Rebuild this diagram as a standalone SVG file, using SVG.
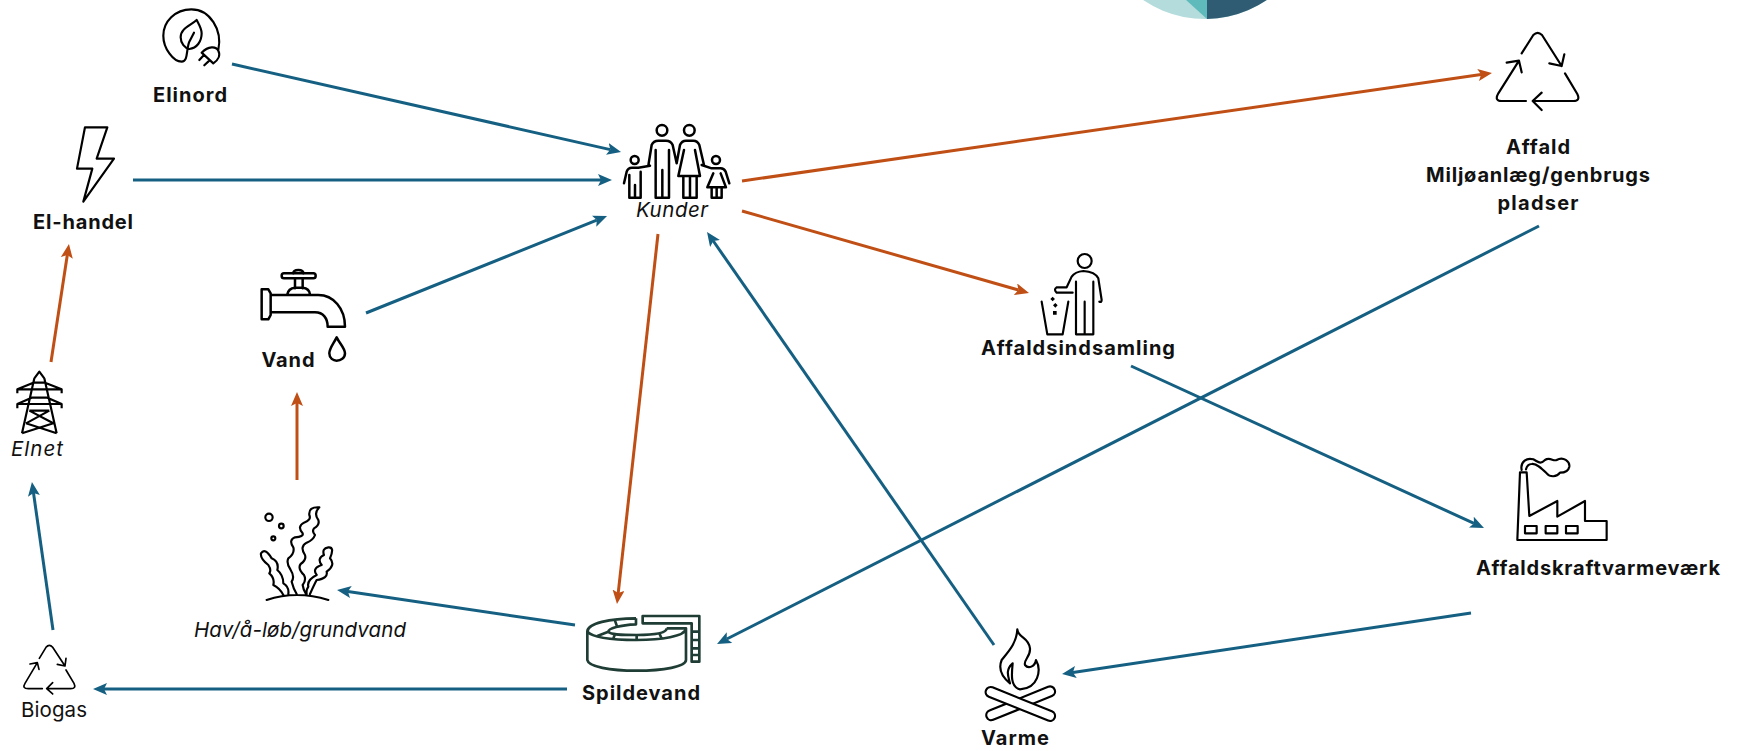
<svg xmlns="http://www.w3.org/2000/svg" width="1740" height="751" viewBox="0 0 1740 751">
<defs>
<marker id="ab" markerUnits="userSpaceOnUse" markerWidth="14" markerHeight="12" refX="3" refY="6" orient="auto"><path d="M0,0L14,6L0,12L3,6Z" fill="#156082"/></marker>
<marker id="ao" markerUnits="userSpaceOnUse" markerWidth="14" markerHeight="12" refX="3" refY="6" orient="auto"><path d="M0,0L14,6L0,12L3,6Z" fill="#C04F15"/></marker>
</defs>
<style>
text{font-family:"Inter","Liberation Sans",sans-serif;fill:#111;text-anchor:middle}
.b{font-weight:700;font-size:20px}
.i{font-style:italic;font-size:20.5px;font-weight:400}
.r{font-size:20.5px;font-weight:400}
.ic{fill:none;stroke:#000;stroke-width:6.5;stroke-linejoin:round;stroke-linecap:round}
.bl{stroke:#156082;stroke-width:3;fill:none;marker-end:url(#ab)}
.or{stroke:#C04F15;stroke-width:3;fill:none;marker-end:url(#ao)}
</style>
<rect width="1740" height="751" fill="#fff"/>
<g id="pie">
<circle cx="1205" cy="-91" r="110" fill="#B5DCDC"/>
<path d="M1207,19L1175,-10H1207Z" fill="#5FBBBB"/>
<path d="M1207,19A110,110 0 0 0 1315,-91H1207Z" fill="#2F5C72"/>
</g>
<g id="connectors">
<line class="bl" x1="232" y1="64" x2="610.3" y2="149.6"/>
<line class="bl" x1="133" y1="180" x2="601" y2="180"/>
<line class="bl" x1="366" y1="313" x2="596.8" y2="220.1"/>
<line class="or" x1="742" y1="181" x2="1481.1" y2="74.6"/>
<line class="or" x1="742" y1="211" x2="1018.4" y2="290"/>
<line class="or" x1="658" y1="234" x2="618.2" y2="593.1"/>
<line class="bl" x1="994" y1="645" x2="713.3" y2="241"/>
<line class="bl" x1="1539" y1="226" x2="726.8" y2="639"/>
<line class="bl" x1="1131" y1="366" x2="1474" y2="523.4"/>
<line class="bl" x1="1471" y1="613" x2="1072.9" y2="672.4"/>
<line class="bl" x1="575" y1="625" x2="347.9" y2="591.6"/>
<line class="bl" x1="567" y1="689" x2="104" y2="689"/>
<line class="bl" x1="53" y1="630" x2="33.5" y2="492.9"/>
<line class="or" x1="51" y1="362" x2="67.3" y2="254.9"/>
<line class="or" x1="297" y1="480" x2="297" y2="403"/>
</g>
<g id="elinord">
<g transform="scale(.3333)"><path class="ic" d="M655,150C668,90 630,28 574,28C525,28 490,65 490,107C490,145 520,185 545,185C565,185 558,150 568,125L582,98M590,60C570,78 542,85 542,112C542,130 555,145 568,147C590,145 605,125 605,100C605,85 595,70 590,60ZM605,158L640,190C655,180 662,165 655,152C648,138 625,138 605,158ZM612,165L598,180M628,182L613,196"/></g>
<text class="b" x="190" y="102" textLength="74">Elinord</text>
</g>
<g id="el-handel">
<g transform="scale(.3333)"><path class="ic" d="M255,382H322L290,476H342L250,605L277,506H231Z"/></g>
<text class="b" x="83" y="229" textLength="100">El-handel</text>
</g>
<g id="kunder">
<g transform="translate(600,100) scale(.3333)"><path class="ic" style="stroke-width:7.5" d="M145,197L155,135Q160,122 175,122H198Q213,122 218,135L230,190M167,150V293H207V150M187,210V293M230,190L240,135Q245,122 258,122H280Q293,122 298,135L312,195M252,150L235,228H300L285,150M250,228V293H290V228M270,228V293M72,250L80,215Q84,203 96,203H115L150,197M88,225V293H122V215M105,255V293M305,195L335,205H362Q372,205 377,215L388,250M340,220L322,262H378L362,220M335,262V293H365V262M350,262V293"/><circle class="ic" style="stroke-width:7.5" cx="186" cy="91" r="16"/><circle class="ic" style="stroke-width:7.5" cx="268" cy="91" r="16"/><circle class="ic" style="stroke-width:7.5" cx="104" cy="180" r="12"/><circle class="ic" style="stroke-width:7.5" cx="348" cy="180" r="12"/></g>
<text class="i" x="672" y="217" textLength="72">Kunder</text>
</g>
<g id="vand">
<g transform="translate(230,250) scale(.3333)"><path class="ic" style="stroke-width:7.5" d="M95,118H115L122,130V195L115,208H95ZM122,135H265C310,135 345,175 345,230H293C293,205 280,187 255,187H122M195,85V115M218,85V115M172,133Q175,115 195,113H218Q238,115 240,133M190,70Q190,60 205,60Q220,60 220,70M320,262C310,282 298,295 298,310C298,325 310,332 320,332C332,332 345,325 345,310C345,295 330,282 320,262Z"/><rect class="ic" style="stroke-width:7.5" x="155" y="70" width="102" height="15" rx="7"/></g>
<text class="b" x="288" y="367" textLength="53">Vand</text>
</g>
<g id="elnet">
<g transform="translate(0,360) scale(.3333)"><path class="ic" style="stroke-linecap:butt" d="M103,55L118,35L133,55M103,55L66,220M133,55L170,220M52,100V88L100,68H135L185,88V100M52,88H185M52,145V132L95,113H142L185,132V145M52,132H185M88,152H148M88,152L160,190M148,152L78,190M78,190L170,220M160,190L66,220"/></g>
<text class="i" x="37" y="456" textLength="52">Elnet</text>
</g>
<g id="hav">
<g transform="translate(180,490) scale(.3333)"><circle class="ic" cx="267" cy="82" r="11"/><circle class="ic" cx="304" cy="108" r="7"/><circle class="ic" cx="280" cy="145" r="6"/><path class="ic" d="M260,330Q350,300 445,330M418,52Q385,50 388,75Q395,90 372,98Q350,110 368,130Q372,140 345,142Q325,150 340,172Q345,190 325,205Q318,220 332,240Q345,260 335,275Q340,295 350,312M418,52Q400,70 415,90Q420,105 402,115Q395,125 405,135Q400,150 380,158Q358,170 375,195Q380,210 362,222Q352,235 372,255Q380,270 368,285Q370,300 378,312M243,190Q255,172 275,205Q298,215 292,240Q310,255 310,280Q328,290 325,312M243,190Q240,205 265,225Q275,240 268,250Q285,265 280,285Q300,295 310,315M445,172Q465,170 450,205Q468,225 440,245Q445,265 410,270Q402,285 390,312M445,172Q425,175 432,195Q410,205 425,225Q395,235 410,255Q380,270 385,290Q378,300 380,312"/></g>
<text class="i" x="300" y="637" textLength="212">Hav/å-løb/grundvand</text>
</g>
<g id="biogas">
<g transform="translate(0,630) scale(.3333)"><path class="ic" style="stroke-width:5" d="M118,85L138,52Q148,40 158,52L195,108M172,103L195,108L198,85M198,120L222,160Q230,176 212,176H140M158,158L140,176L158,192M127,176H85Q65,176 75,160L112,98M90,102L112,98L117,118"/></g>
<text class="r" x="54" y="717" textLength="66">Biogas</text>
</g>
<g id="spildevand">
<g transform="translate(560,590) scale(.3333)"><path class="ic" style="stroke:#1F3D35;stroke-width:8;stroke-linecap:butt" d="M228,85C150,85 82,100 82,125V210C85,230 150,242 230,242C310,242 378,230 378,210V115M228,85V103C180,105 145,115 145,125C150,135 190,135 230,135C280,135 320,130 320,115M82,125C100,145 160,150 230,150C300,150 378,140 378,115H320M165,92L172,112M145,125L112,138M165,132L160,146M230,135V150M298,130L305,146M248,78H418V215H395V100H248ZM395,125H418M395,150H418M395,175H418M395,195H418"/></g>
<text class="b" x="641" y="700" textLength="118">Spildevand</text>
</g>
<g id="varme">
<g transform="translate(960,610) scale(.3333)"><rect class="ic" x="72" y="265" width="220" height="30" rx="15" transform="rotate(-22 182 280)"/><rect class="ic" style="fill:#fff" x="70" y="267" width="222" height="30" rx="15" transform="rotate(22 181 282)"/><path class="ic" style="fill:#fff" d="M172,58C175,85 205,80 210,115C212,140 190,150 195,165C205,178 225,170 228,150C245,180 235,235 180,238C150,232 155,190 158,160C135,180 145,200 150,220C125,200 115,175 125,150C145,125 170,100 172,58Z"/></g>
<text class="b" x="1015" y="745" textLength="68">Varme</text>
</g>
<g id="affald">
<g transform="translate(1470,20) scale(.3333)"><path class="ic" d="M155,100L190,45Q203,32 216,45L275,138M238,130L275,138L283,103M285,160L322,222Q332,243 310,243H188M215,218L188,243L215,270M168,243H95Q72,243 85,220L147,122M110,128L147,122L155,157"/></g>
<text class="b" x="1538" y="154" textLength="64">Affald</text>
<text class="b" x="1538" y="182" textLength="224">Miljøanlæg/genbrugs</text>
<text class="b" x="1538" y="210" textLength="81">pladser</text>
</g>
<g id="affaldsindsamling">
<g transform="translate(1020,240) scale(.3333)"><circle class="ic" cx="194" cy="63" r="21"/><path class="ic" d="M110,142H140L155,110Q165,95 190,93Q225,95 235,115L245,180Q245,188 238,185M110,142Q100,148 110,158H158M168,125V283H220V125M194,185V283M65,185L82,283H128L145,185"/><path d="M98,170L105,177L98,184L91,177ZM106,189L113,196L106,203L99,196ZM99,213H110V224H99Z"/></g>
<text class="b" x="1078" y="355" textLength="194">Affaldsindsamling</text>
</g>
<g id="affaldskraftvarmevaerk">
<g transform="translate(1470,440) scale(.3333)"><path class="ic" d="M142,300L150,97H170L178,228L262,183V230L345,183V243H410V300ZM155,90C150,65 170,52 190,58C205,65 210,75 225,60C240,50 250,65 260,60C280,48 300,65 298,80C295,95 280,98 270,98C260,112 240,112 230,100C215,85 200,70 185,72C175,72 170,80 168,88"/><rect class="ic" x="165" y="258" width="35" height="22"/><rect class="ic" x="227" y="258" width="35" height="22"/><rect class="ic" x="288" y="258" width="35" height="22"/></g>
<text class="b" x="1598" y="575" textLength="244">Affaldskraftvarmeværk</text>
</g>
</svg>
